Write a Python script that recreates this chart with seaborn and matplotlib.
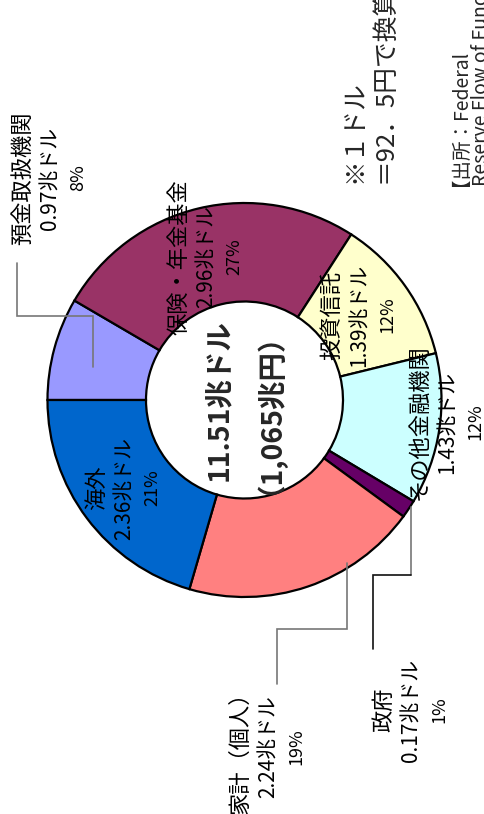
import matplotlib
matplotlib.use('Agg')
import matplotlib.pyplot as plt
import seaborn as sns

# data
CATEGORIES = ['預金取扱機関', '保険・年金基金', '投資信託', 'その他金融機関', '政府', '家計（個人）', '海外']
VALUES = [0.97, 2.96, 1.39, 1.43, 0.17, 2.24, 2.36]          # 兆ドル
PCT_LABELS = ['8%', '27%', '12%', '12%', '1%', '19%', '21%']
COLORS = ['#9999FF', '#993366', '#FFFFCC', '#CCFFFF', '#660066', '#FF8080', '#0066CC']
TOTAL_TEXT = ['11.51兆ドル', '（1,065兆円）']
NOTE_TEXT = ['※１ドル', '＝92．5円で換算']
SOURCE_TEXT = ['【出所：Federal', 'Reserve Flow of Funds】']

sns.set_style('white')
plt.rcParams['font.family'] = ['Noto Sans CJK JP', 'DejaVu Sans']

W, H = 484, 814
fig = plt.figure(figsize=(W / 100, H / 100), dpi=100)
ax = fig.add_axes([0, 0, 1, 1])

def Y(y):
    # picture y (top-down) -> axes y
    return H - y

CX, CY, R = 244.5, 400, 197
palette = sns.color_palette(COLORS)
ax.pie(VALUES, colors=palette, startangle=180, counterclock=False,
       center=(CX, Y(CY)), radius=R,
       wedgeprops=dict(width=R * 0.5, edgecolor='black', linewidth=1.6))
ax.set_xlim(0, W)
ax.set_ylim(0, H)
ax.set_aspect('equal')
ax.axis('off')

# label blocks: x of first column, y centre (picture coords); text is rotated 90°
LABEL_POS = {
    '預金取扱機関': (20, 178),
    '保険・年金基金': (176, 257),
    '投資信託': (329, 315),
    'その他金融機関': (417, 422),
    '政府': (381, 710),
    '家計（個人）': (238, 747),
    '海外': (94, 488),
}
STEP = 28
for name, val, pct in zip(CATEGORIES, VALUES, PCT_LABELS):
    x0, yc = LABEL_POS[name]
    kw = dict(rotation=90, rotation_mode='anchor', ha='center', va='center_baseline', color='black')
    ax.text(x0, Y(yc), name, fontsize=16, **kw)
    ax.text(x0 + STEP, Y(yc), f'{val:.2f}兆ドル', fontsize=15, **kw)
    ax.text(x0 + 2 * STEP, Y(yc), pct, fontsize=13, **kw)

# total in the hole
for i, t in enumerate(TOTAL_TEXT):
    ax.text(217 + i * 35, Y(400), t, fontsize=20.5, fontweight='bold',
            rotation=90, rotation_mode='anchor', ha='center', va='center_baseline')

# notes on the right
for i, t in enumerate(NOTE_TEXT):
    ax.text(351 + i * 30, Y(183), t, fontsize=18.5,
            rotation=90, rotation_mode='anchor', ha='left', va='center_baseline')
for i, t in enumerate(SOURCE_TEXT):
    ax.text(448 + i * 31, Y(186), t, fontsize=14,
            rotation=90, rotation_mode='anchor', ha='left', va='center_baseline')

# leader lines
def leader(xs, ys, color='#777777'):
    ax.plot(xs, [Y(v) for v in ys], color=color, lw=1.2, solid_joinstyle='miter')

leader([93, 93, 17, 17], [367, 316, 316, 263])
leader([347, 347, 277, 277], [563, 629, 629, 684])
leader([411, 411], [507, 575])
leader([411, 373, 373], [575, 575, 649], color='#111111')

fig.savefig('out.png', dpi=100)
